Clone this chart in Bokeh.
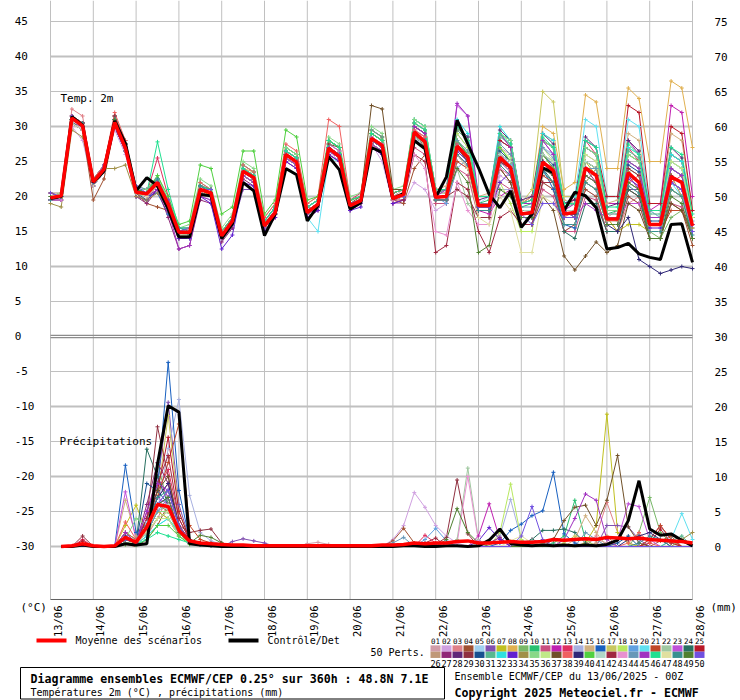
import math
from bokeh.plotting import figure
from bokeh.models import Range1d, LinearAxis, FixedTicker
from bokeh.embed import file_html
from bokeh.resources import INLINE
from bokeh.core.properties import value

FONT = "DejaVu Sans Mono"

DATES = ["13/06", "14/06", "15/06", "16/06", "17/06", "18/06", "19/06", "20/06",
         "21/06", "22/06", "23/06", "24/06", "25/06", "26/06", "27/06", "28/06"]
STEP_H = 6

# ensemble mean / control, 2 m temperature (degC), every 6 h from 13/06 00Z
MEAN_T = [19.8, 20.1, 31.2, 30.1, 22.1, 23.9, 30.6, 26.9, 20.6, 20.4,
          22.0, 18.9, 14.9, 14.9, 21.0, 20.5, 14.4, 16.5, 23.6, 22.7,
          15.8, 17.7, 26.0, 24.9, 17.7, 18.9, 26.9, 25.7, 18.7, 19.4,
          28.3, 27.3, 19.7, 20.3, 29.2, 27.8, 19.9, 20.0, 27.2, 25.6,
          18.7, 18.7, 25.6, 24.1, 17.5, 17.7, 24.9, 23.7, 17.5, 17.7,
          24.1, 23.0, 16.8, 16.8, 23.4, 22.0, 16.0, 16.0, 22.8, 22.0, 15.8]
CTRL_T = [19.7, 20.0, 31.4, 30.2, 22.0, 23.6, 30.8, 27.6, 20.8, 22.7,
          21.5, 18.2, 14.2, 14.2, 20.3, 20.1, 14.0, 16.1, 22.0, 20.8,
          14.4, 17.5, 24.0, 23.1, 16.5, 18.7, 25.7, 23.8, 18.2, 19.1,
          27.0, 26.3, 19.7, 20.4, 28.0, 26.8, 19.9, 22.8, 30.9, 27.5,
          24.1, 20.3, 18.4, 20.8, 15.6, 17.5, 24.1, 23.4, 18.0, 20.6,
          20.1, 18.4, 12.5, 12.7, 13.3, 11.8, 11.3, 11.0, 16.0, 16.1, 10.6]

# ensemble mean / control, precipitation (mm / 6 h), from 13/06 06Z
MEAN_P = [0, 0.1, 0.4, 0.1, 0, 0.1, 1.3, 0.6, 2.8, 6.0,
          5.7, 2.3, 0.8, 0.5, 0.4, 0.3, 0.2, 0.2, 0.1, 0.1,
          0.1, 0.1, 0.1, 0.1, 0.1, 0.1, 0.1, 0.1, 0.1, 0.1,
          0.2, 0.2, 0.3, 0.5, 0.4, 0.5, 0.5, 0.7, 0.8, 0.5,
          0.5, 0.6, 0.7, 0.6, 0.6, 0.7, 1.0, 0.9, 1.0, 1.1,
          1.0, 1.3, 1.2, 1.1, 1.2, 1.0, 0.9, 0.8, 0.7, 0.5]
CTRL_P = [0, 0, 0.2, 0, 0, 0, 0.4, 0.2, 0.4, 11.8,
          20.1, 19.2, 0.4, 0.2, 0.1, 0, 0, 0, 0, 0,
          0, 0, 0, 0, 0, 0, 0, 0, 0, 0,
          0, 0, 0.1, 0.1, 0, 0, 0.1, 0.1, 0, 0.1,
          0.9, 2.5, 0.4, 0.2, 0.1, 0.2, 0.1, 0.2, 0.1, 0.2,
          0.1, 0.3, 0.9, 3.7, 9.4, 2.5, 1.6, 1.8, 0.9, 0.1]

COLORS = ["#d09ca8", "#d0a0e0", "#e08088", "#a05030", "#a0d0f0", "#8050b0", "#c0c020", "#e0b050",
          "#78b868", "#28c070", "#c85080", "#c020b0", "#e03060", "#a8b0e0", "#d0b080", "#1860c0",
          "#c8c860", "#b8e860", "#60a0e0", "#60e0f0", "#c04828", "#a0c8a0", "#c050d8", "#287060",
          "#b81828", "#c09878", "#902878", "#602878", "#903040", "#185090", "#58b890", "#30e0e0",
          "#6020d0", "#a09048", "#88d888", "#c0e888", "#705028", "#f06060", "#302878", "#50d040",
          "#b0d8c8", "#a02840", "#e890d0", "#6898b8", "#a030c0", "#20e090", "#e0e0a0", "#389090",
          "#508030", "#7050e0"]

# 50 perturbed members, 2 m temperature
T01 = [20,20.5,31.5,30.5, 22.5,24,30.5,27, 21,20.5,22.5,19, 15,15.5,21.5,21, 15,17,24,23, 16.5,18,26.5,25.5, 18.5,19.5,28,27, 19.5,20,29,28, 20,21,30,29, 21,21,29,27, 19,19,27,26, 18,18,27,26, 18,18,26,25, 17,18,25,24, 17,17,25,24, 17]
T02 = [19.5,19.5,30,28, 21.5,23.5,29.5,26, 20,20,21.5,18.5, 14.5,15,20.5,20, 14,16,23,22, 15.5,17.5,25.5,24.5, 17.5,18.5,26.5,25, 18.5,19,27.5,25, 19,19,22,21, 18,19,25,24, 17,17,23,22, 16,16,22,21, 15,16,21,20, 15,15,20,19, 14,14,21,20, 15]
T03 = [20,20.5,32.5,31.5, 22,23.5,31,28, 21,20,22,19, 15,15,21,20.5, 14.5,16.5,23.5,23, 16,18,26,25, 18,19,27.5,26.5, 19,19.5,28.5,27.5, 20,20.5,29.5,28.5, 20,20,28,26, 19,19,26,25, 18,18,26,24, 17,18,25,24, 17,15,19,20, 16,16,24,23, 16]
T04 = [19.5,19.5,30.5,29.5, 19.5,22.5,30,26.5, 20.5,19,18.5,18, 14.5,14.5,20.5,20, 14,16,23,22, 15.5,17.5,25.5,24.5, 17,18.5,26.5,25.5, 18.5,19,28,27, 19.5,19,24,26, 19,19,26,24, 17,17,24,22, 16,16,22,21, 15,16,21,20, 15,15,20,19, 14,14,19,18, 13]
T05 = [20,20,31,30, 22,24,31,27, 21,20.5,22,19.5, 15.5,15.5,21.5,21, 15,17,24,23, 16,18,26.5,25.5, 18.5,19.5,27.5,26.5, 19.5,20,29,28, 20.5,21,30,29, 21,21,29,27, 19,20,28,27, 19,19,27,26, 18,19,27,26, 18,18,26,25, 17,17,25,24, 17]
T06 = [19.5,20,31,30, 22,24,30,26.5, 20,19.5,21,18, 14,14,20.5,20, 14,15.5,21,21, 15.5,17.5,25.5,24.5, 17.5,18.5,26.5,25.5, 18.5,19.5,28,27, 19.5,20,29,27.5, 20,20,27,25, 18,18,25,24, 17,17,25,23, 17,17,24,23, 17,17,21,21, 16,16,22,21, 15]
T07 = [20,20.5,31,30, 22,24,31,27.5, 21,20.5,22,19, 15,15,21,20, 14.5,16.5,23.5,22.5, 16,18,26,25, 18,19,27,26, 19,19.5,28,27, 20,20,29,28, 20,20,28,26, 19,19,27,25, 18,18,26,25, 18,17,25,23, 17,15,16,16, 15,15,21,20, 15]
T08 = [20,20,31,30, 22,24.5,31.5,27.5, 21,20.5,22.5,19.5, 15,15.5,21.5,21, 15,17,24,23.5, 16.5,18.5,27,26, 18.5,19.5,28,27, 19.5,20,29,28, 20.5,21,31,30, 21,21,30,28, 20,20,29,28, 19,20,30,29, 21,22,34.5,33.5, 24,24,35.5,34, 25,25,36.5,35.5, 27]
T09 = [20,20,31.5,30.5, 22,24,31,27, 21,20.5,22,19, 15,15,21,20.5, 14.5,16.5,23.5,22.5, 16,18,26,25, 18,19,27,26, 19,19.5,28,27, 19.5,20,29,28, 20,20,27,25.5, 18.5,18.5,25.5,24, 17.5,17.5,25,23.5, 17.5,17.5,24,23, 17,17,23.5,22, 15,14,17,18, 15]
T10 = [19.5,20,30.5,29.5, 22,24,30.5,27, 20.5,20,21.5,18.5, 15,15,21.5,21, 15,17,24.5,23.5, 16.5,18.5,27,26, 18.5,19.5,28,27, 19.5,20,29.5,28.5, 20.5,21,31,30, 21,21,30,28, 19,19.5,28,27, 18.5,19,28,27, 18,17,22,24, 17.5,18,26,25, 17,17,26,25, 17]
T11 = [20,20,31,30, 22,23.5,30.5,27, 21,20,21.5,18.5, 14.5,14.5,20.5,20, 14,16,23,22, 15.5,17.5,25.5,24.5, 17.5,18.5,26,25, 18.5,19,27.5,26, 19,19.5,27,26, 19,19,24,23, 17,17,22,21, 16,16,21,20, 15,15,20,19.5, 15,15,21,20, 15,15,19,18.5, 14]
T12 = [20,20,31.5,30.5, 22,24,31,27, 21,20.5,22,19, 15,15,21,20.5, 14.5,16.5,23.5,23, 16,18,26,25, 18,19,27,26, 19,19.5,28,27, 20,20,29,28, 20,20,27,25, 18,17.5,20,21, 17,17,25,24, 18,19,27,26, 19,19,28,26, 18,19,33,32, 20]
T13 = [20,20,31,30, 22,24,31,27.5, 21,20.5,25.5,20, 15,15.5,21.5,21, 15,17,24,23, 16.5,18.5,26.5,25.5, 18.5,19.5,28,27, 19.5,20.5,29.5,28.5, 20.5,21,30.5,29.5, 21,21,30,28, 20,20,29,27, 19,20,28,27, 19,19,28,26, 18,18,27,25, 18,17,22,23, 17]
T14 = [19.5,20,31,30, 22,24,30.5,27, 20.5,20,20.5,17.5, 14,14,20,19.5, 14,16,23,22, 15.5,17.5,25.5,24.5, 17.5,18.5,26.5,25.5, 18.5,19,27.5,26.5, 19.5,20,28.5,27, 19.5,19.5,26,24, 18,18,21,21, 16,16,23,22, 16,16,23,22, 16,16,22,21, 15,15,22,21, 15]
T15 = [20,20.5,31,30, 22.5,24.5,31.5,27.5, 21,20.5,22,19.5, 15.5,15.5,21.5,21, 15,17,24,23, 16.5,18.5,26.5,25.5, 18.5,19.5,28,27, 19.5,20,29,28, 20.5,21,30.5,29.5, 21,21.5,30,28.5, 20,20.5,29,28, 19,20,29,28, 19.5,19,22,24, 19,19.5,29,28, 18,18,29,28, 18]
T16 = [20,20,31,30, 22,24,30,26.5, 20.5,20,20.5,17.5, 14.5,14.5,20.5,20, 14.5,16.5,23.5,22.5, 16,18,26,25, 18,19,27,26, 19,19.5,28,27, 20,20,29,28, 20,20,28,26, 19,19,26,25, 18,18,24,21, 16,15.5,22,21, 16,16,22,21, 15,15,22,21, 15]
T17 = [20,20,31,30, 22,24,31,27, 21,20.5,22,19, 15,15.5,21.5,21, 15,17,24,23, 16.5,18.5,26.5,25.5, 18.5,19.5,28,27, 19.5,20,29,28, 20.5,21,30,29, 21,21,30,28, 20,20,29,28, 19,21,35,33.5, 20,20,27,26, 18,18,26,25, 17,17,26,25, 17]
T18 = [20,20,31,30, 22,24,31,27, 21,20.5,22.5,19.5, 15,15,21,20.5, 15,17,24,23, 16,18,26.5,25.5, 18,19,27.5,26.5, 19,19.5,28.5,27.5, 20,20,29.5,28.5, 20.5,20.5,29,27, 19,19,22,19, 15,15,24,24, 18,18,27,26, 18,18,27,26, 17,17,26,25, 17]
T19 = [19.5,20,30.5,29.5, 22,23.5,30.5,27, 20.5,20,21.5,18.5, 14.5,15,21,20.5, 14.5,16.5,23.5,22.5, 16,18,26,25, 18,19,27,26, 19,19.5,28,27, 20,20,29,28, 20,19,24,25.5, 18.5,18.5,26,24.5, 17.5,18,26,24, 17,17,24,23, 16,16,23,22, 16,16,22,21, 15]
T20 = [20,20.5,31,30, 22,24,31,27.5, 21,20.5,22,19, 15,15,21,20.5, 14.5,16.5,23.5,22.5, 16,18,26,25, 17,15,25.5,25, 18.5,19,28,27, 20,20,30,29, 21,21,30,28.5, 20,20,29,28, 19,19,28,27, 19,20,31,30, 20,20,31,30, 18,17,22,20, 15]
T21 = [20,20,31,30, 22,24,31,27, 21,20.5,22,19, 15,15,21,20.5, 14.5,16.5,23.5,22.5, 16,18,26,25, 18,19,27,26, 19,19.5,28,27, 19.5,20,28.5,27.5, 19.5,19.5,25,24, 18,18,24,23, 17,17,23,22, 17,17,22,21, 16,16,21,20, 15,15,18,18, 15]
T22 = [20,19.5,30.5,29.5, 21.5,24,31,27.5, 21,20.5,21.5,18.5, 15,15,21,20.5, 14.5,16.5,23.5,22.5, 16,18,26,25, 18,19,27,26, 19,19.5,28,27, 20,20,29,28, 20,20,24,19, 17,17,25,24, 18,18,26,25, 18,18,25,24, 17,17,25,24, 16,16,24,23, 16]
T23 = [20.5,20.5,31.5,30.5, 22.5,24.5,31.5,27.5, 21.5,21,22.5,19.5, 15.5,15.5,21.5,21, 15,17,24,23, 16.5,18.5,26.5,25.5, 18.5,19.5,27.5,26.5, 19.5,20,28.5,27.5, 20,20,29.5,28.5, 20.5,20.5,33,31.5, 19,19,28,27, 18,18,28,26, 18,18,27,26, 17,17,19,19, 16,16,26,25, 16]
T24 = [19.5,20,31,30, 22,23.5,30.5,26.5, 20.5,19.5,21,18.5, 14.5,14.5,20.5,20, 14,16,23,22, 15.5,17.5,25.5,24.5, 17.5,18.5,26.5,25.5, 18.5,19,27.5,26.5, 19.5,20,28.5,27.5, 20,20,27,25, 18,18,25,24, 17,17,24,22, 15,14,19,19, 15,15,21,20, 14,14,21,20, 14]
T25 = [20,20.5,31.5,30, 22.5,24,31.5,27.5, 21,20.5,22,19, 15,15,21,20.5, 15,17,24,23, 16.5,18.5,26.5,25.5, 18.5,19.5,28,27, 19.5,20,29,28, 20.5,21,30,29, 21,21,29.5,28, 20,20,28,27, 19,19.5,28,27, 19,19.5,28,27, 20,20,33,32, 19,19,30,29, 18]
T26 = [19.5,19.5,30.5,29.5, 22,24,30.5,27, 20.5,20,21.5,18.5, 14.5,14.5,20.5,20, 14,16,23,22, 15.5,17.5,25.5,24.5, 17.5,18.5,26.5,25.5, 18.5,19,27.5,26.5, 19.5,20,28.5,27.5, 19.5,19.5,26.5,25, 18.5,18.5,25.5,24, 17,17,24,23, 17,17,23,22, 16.5,16.5,23,22, 16,16,22,21, 15.5]
T27 = [19.5,19.5,30.5,29.5, 21.5,23.5,30,26.5, 20,19,21,17, 12.5,13,19.5,19, 13.5,15.5,22.5,21.5, 15,17,25,24, 17,18,26,25, 18,19,27,26, 19,19.5,28,27, 19.5,19.5,26,24.5, 18,18,25,23.5, 17,17,25,23, 17,17,24,22, 16,16,23,21, 15,15,22,21, 15]
T28 = [20.5,20,31,30.5, 21.5,24,31,27, 21,21,22.5,19, 15,15.5,21.5,20.5, 14.5,16.5,23.5,22.5, 16,18,26,25, 18,19,27,26, 19,19.5,28,27, 20,20.5,30,29, 20.5,21,30,28.5, 19.5,20,29.5,28, 19.5,20,29,27.5, 19,19.5,28.5,27, 18.5,19,28,26.5, 18,18,27,25.5, 17]
T29 = [19.5,20,31.5,30.5, 22,24.5,31,27.5, 21,20,21,18, 14,14.5,20.5,20, 14.5,16.5,23.5,22.5, 16,18,26,25, 18,19,27,26, 19,19.5,28,27, 20,20,29,28, 20,20,21,20, 17,17,25,24, 17,17,25,23, 17,17,24,23, 17,17,23,22, 16,16,23,22, 16]
T30 = [20,20,31,30, 22,24,31,27, 21,20.5,21.5,18.5, 14.5,14.5,20.5,20, 14,16,23,22, 15.5,17.5,25.5,24.5, 17.5,18.5,26.5,25.5, 18.5,19,27.5,26.5, 19.5,20,28.5,27.5, 20,20,27.5,26, 19,19,26.5,25, 18,18,26,24.5, 17.5,17.5,25,24, 17,17,24.5,23.5, 16.5,16.5,24,23, 16]
T31 = [20,20.5,31.5,30.5, 22.5,24.5,31.5,28, 21.5,21,22.5,19.5, 15.5,15.5,22,21, 15,17,24.5,23.5, 16.5,18.5,27,26, 18.5,19.5,28,27, 19.5,20,29.5,28.5, 20,20.5,30.5,29.5, 20.5,21,29.5,28, 20,20,28.5,27.5, 19,19.5,28,27, 18.5,19,27,26, 18,18,26.5,25.5, 17.5,17.5,26,25, 17]
T32 = [20,20,31,30, 22,24,31,27.5, 21,20.5,22.5,19.5, 15,15.5,21.5,21, 15,17,24,23, 16.5,18.5,26.5,25.5, 18.5,19.5,28,27, 19.5,20,29,28, 21,21,31,30, 21,21,31,29, 20,20,30,28, 19,19,29,28, 19,19,28,27, 18,18,27,26, 17,17,26,25, 16]
T33 = [19.5,19.5,30.5,29.5, 21.5,23.5,30,26.5, 20,19.5,21,18, 14,14,20,19, 12.5,14.5,22,21.5, 15,17,25,24, 17,18,26,25, 18,18.5,27,26, 19,19.5,28,27, 19.5,19.5,26.5,25, 18,18,22,23.5, 17,17,24,23, 17,17,23,22, 16,16,22.5,21.5, 15.5,15.5,22,21, 15]
T34 = [19,18.5,29.5,28.5, 22.5,24,24,24.5, 20,19.5,20.5,18.5, 14.5,14.5,20.5,20, 14,16,23,22, 15.5,17.5,25.5,24.5, 17.5,18.5,26.5,25.5, 18.5,19,27.5,26.5, 19.5,20,28.5,27.5, 19.5,19.5,27,25.5, 18.5,18.5,25.5,24, 17.5,17.5,25,23.5, 17.5,17.5,24,23, 17,17,23.5,22, 16,16,23,20, 15.5]
T35 = [20,20,31,30, 22,24,31,27, 21,21,23,19.5, 15.5,16,22.5,21.5, 15.5,17.5,25,24, 17,19,27,26, 19,20,28.5,27.5, 20,20.5,30,29, 21,21.5,31,30, 21,21,30,28, 20,20,29,28, 19,19,28,27, 19,19,27,26, 18,18,26,25, 17,17,25,24, 17]
T36 = [20.5,20.5,30.5,30, 22,24.5,30.5,27, 21,20,22,19.5, 15,15.5,21,21, 14.5,16.5,23.5,22.5, 16,18,26,25, 18,19,27,26, 19,19.5,28,27, 20,20,29,28, 20.5,20.5,28,26.5, 19,19,27,25.5, 18,18,27,25, 18,18,26,25, 17.5,17.5,25,24, 17,17,25,24, 17]
T37 = [20,20,31,30, 22,24,31,27, 20.5,20,21.5,18.5, 14.5,14.5,20.5,20, 14.5,16.5,23.5,22.5, 16,18,26,25, 18,19,27.5,27, 19,20,33,32.5, 21,21,29,27, 20,20,27,25, 18,18,24,22, 16,16,20,18, 11.5,9.5,11.5,13.5, 12,13,19,18, 14,14,19,18, 14]
T38 = [20,20.5,31.5,30.5, 22.5,24.5,32,28, 21,20.5,22,19, 15,15.5,22,21, 15,17,24.5,23.5, 17,19,27.5,26.5, 19,20,31,30, 19.5,20,29,28, 20,20.5,29.5,28.5, 20,20,27.5,26, 19,19,26,25, 18,18,26,24, 18,18,25,24, 17,17,22,23, 16,16,23,22, 16]
T39 = [19.5,20,30.5,30, 22,23.5,31,27, 20.5,20.5,22,19, 15,14.5,21,20.5, 14.5,16.5,23.5,22.5, 16,18,26,25, 18,19,27,26, 19,19.5,28,27, 20,20,29,28, 20,20,27,25.5, 18.5,18.5,25.5,24, 17.5,17.5,25,23.5, 17.5,17.5,24,23, 16,15,17,11, 10,9,9.5,10, 9.7]
T40 = [20,20,31,30, 22,24,31,27, 21,20.5,23,20, 16,16.5,24.5,24, 17.5,18.5,26.5,26.5, 17.5,19.5,29.5,28.5, 19.5,20,28,27, 19.5,20,29,28, 20,20,29,28, 20,20,28,26, 19,19,27,25, 18,18,26,24, 18,18,25,24, 17,17,24,23, 16,16,23,22, 16]
T41 = [19.5,20,30.5,29.5, 22,24,30.5,27, 20.5,20,21.5,18.5, 14.5,14.5,20.5,20, 14,16,23,22, 15.5,17.5,25.5,24.5, 17.5,18.5,26.5,25.5, 18.5,19,27.5,26.5, 19.5,20,28.5,27.5, 20,20,27,26, 19,19,26,25, 18,18,26,25, 18,18,25,24, 17,17,24,23, 16,16,24,23, 16]
T42 = [20.5,20,31,30.5, 22,24,31.5,27.5, 21,20.5,22,19.5, 15,15,21.5,21, 14.5,16.5,23.5,22.5, 16,18,26,25, 18,19,27,26, 19,19.5,28,27, 19.5,19.5,26,25, 12,13,22,21, 15,12,17,18, 16,16,22,22, 17,17,24,23, 17,17,24,23, 17,17,23,22, 16]
T43 = [19.5,19.5,31,29.5, 22,23.5,30.5,27, 21,20,21.5,19, 14.5,15,20.5,20, 14.5,16.5,23.5,22.5, 16,18,26,25, 18,19,27,26, 19,19.5,28,27, 19.5,20,26,24, 15,14.5,22,18, 16,16,24,23, 17,17,24,23, 17,17,23,22, 16,16,22,21, 15,15,22,21, 15]
T44 = [20,20,31,30, 22,24,31,27, 21,20.5,22,19, 15,15,21,20.5, 14.5,16.5,23.5,22.5, 16,18,26,25, 18,19,27,26, 19,19.5,28,27, 20,20,29,28, 20,20,28,26.5, 19,19,27.5,26, 18.5,18.5,27,25.5, 18,17,24,24, 17.5,17.5,25,24, 17,17,24,23, 16.5]
T45 = [20,20,31,30, 22,24,31,27, 21,20,21,18, 12.5,13,20,19.5, 14,16,23,22, 15.5,17.5,25.5,24.5, 17.5,18.5,26.5,25.5, 18.5,19,27.5,26.5, 20,20,30,29, 20,21,33.3,31.5, 20,20,29,27, 19,19,28,26, 18,17,19,18, 17,17,25,24, 17,17,24,23, 16]
T46 = [20,20.5,31,30, 22,24,31,27.5, 21,20.5,27.8,21, 15.5,15.5,21.5,21, 15,17,24,23, 16.5,18.5,26.5,25.5, 18.5,19.5,28,27, 19.5,20,29,28, 20.5,21,30.5,29.5, 21,21,30,28, 20,20,29,27.5, 19,19.5,28.5,27, 19,19,28,27, 18.5,18.5,27.5,26, 18,18,27,26, 17.5]
T47 = [20,20.5,30.5,29.5, 21.5,23.5,30.5,26.5, 20.5,20,21.5,18.5, 14.5,14.5,20.5,20, 14.5,16.5,23.5,22.5, 16,18,26,25, 18,19,27,26, 19,19.5,28,27, 20,20,29,28, 20,20,26,24, 17,16,20,18, 12,12,20,19, 16,16,22,21, 16,16,22,21, 15,15,21,20, 15]
T48 = [19.5,20,31,30.5, 22.5,24,31,27, 21,20.5,22.5,19, 15.5,15,21.5,20.5, 14.5,16.5,23.5,22.5, 16,18,26,25, 18,19,27,26, 19,19.5,28,27, 20,20,29,28, 19.5,19.5,26,24.5, 18,18,24.5,23, 17,17,23.5,22, 16,16,22,21, 16,16,21.5,20.5, 15,15,21,20, 14.5]
T49 = [20,20,31,30, 22,24,31,27, 21,20.5,22,19, 15,15,21,20.5, 14.5,16.5,23.5,22.5, 16,18,26,25, 18,19,27,26, 19,19.5,28,27, 20,20,29,28, 20,20,24,22, 12,13,21,20, 17,17,24,23, 17,17,23,22, 16,16,22,21, 14,14,20,19, 14]
T50 = [20.5,20,31.5,30, 22,24.5,30.5,27, 21.5,20.5,22,19.5, 15,15.5,21,21, 14.5,16.5,23.5,22.5, 16,18,26,25, 18,19,27,26, 19,19.5,28,27, 20,20,29,28, 20,20,27,25.5, 18.5,18.5,25.5,24, 17.5,16,19,19, 17,17,24,23, 17,17,23,22, 16,16,22,21, 15]

# 50 perturbed members, precipitation (mm / 6 h) by step number (steps not listed: 0)
P01 = {7: 0.5, 8: 0.3, 9: 2, 10: 5, 11: 4, 12: 1.5, 13: 0.5, 14: 0.3, 15: 0.2, 24: 0.4, 25: 0.6, 26: 0.3, 50: 0.5, 51: 1, 52: 0.5}
P02 = {7: 1, 8: 0.5, 9: 3, 10: 6, 11: 5, 12: 2, 13: 0.5, 14: 0.3, 15: 0.2, 32: 1, 33: 3, 34: 7.7, 35: 5.6, 36: 3, 37: 1.5, 38: 0.5, 47: 0.5}
P03 = {7: 0.5, 8: 0.2, 9: 1.5, 10: 4, 11: 7, 12: 3, 13: 0.8, 14: 0.5, 15: 0.3, 51: 1.5, 52: 6.3, 53: 2, 54: 0.5}
P04 = {7: 0.3, 9: 1, 10: 3, 11: 6, 12: 2.5, 13: 0.5, 14: 0.5, 15: 0.3, 32: 0.8, 33: 2.6, 34: 0.5, 57: 0.8, 58: 1.5}
P05 = {7: 1.5, 8: 1, 9: 3.5, 10: 7, 11: 5, 12: 1.5, 13: 0.5, 14: 0.3, 15: 0.2, 56: 1, 57: 3, 58: 0.5}
P06 = {7: 2, 8: 0.5, 9: 4, 10: 9, 11: 20.6, 12: 6, 13: 1, 14: 0.5, 15: 0.3, 17: 0.7, 18: 1.1, 19: 0.8, 20: 0.5, 52: 3, 53: 3, 54: 2.8, 55: 1}
P07 = {7: 3, 8: 5.9, 9: 2, 10: 5, 11: 4, 12: 2, 13: 0.5, 14: 0.3, 15: 0.2, 50: 0.5, 51: 3, 52: 18.9, 53: 2, 54: 0.5}
P08 = {7: 0.5, 8: 0.2, 9: 2, 10: 6, 11: 6, 12: 2, 13: 0.5, 14: 0.3, 15: 0.2}
P09 = {7: 1, 8: 0.5, 9: 3, 10: 11.9, 11: 6, 12: 2, 13: 0.5, 14: 0.5, 15: 0.5, 55: 2, 56: 7, 57: 2, 58: 0.5}
P10 = {7: 0.5, 8: 0.3, 9: 2, 10: 4, 11: 5, 12: 2, 13: 0.5, 14: 0.3, 15: 0.2, 47: 0.5, 48: 1.5, 49: 6.6, 50: 1}
P11 = {7: 1, 8: 0.5, 9: 3, 10: 7, 11: 9, 12: 3, 13: 1, 14: 0.5, 15: 0.3, 44: 0.5, 45: 1, 46: 0.5}
P12 = {7: 1.5, 8: 0.5, 9: 5, 10: 10, 11: 7, 12: 2, 13: 0.5, 14: 0.3, 15: 0.2, 40: 1.5, 41: 6.1, 42: 1}
P13 = {3: 1, 7: 2, 8: 1, 9: 4, 10: 8, 11: 11, 12: 4, 13: 1, 14: 0.5, 15: 0.3, 35: 1.6, 36: 0.5, 56: 1, 57: 3, 58: 1}
P14 = {7: 0.5, 8: 0.3, 9: 2, 10: 5, 11: 14, 12: 21, 13: 7.3, 14: 2, 15: 0.8, 16: 0.3, 42: 1.5, 43: 6.7, 44: 1}
P15 = {7: 6.6, 8: 1.5, 9: 2, 10: 4, 11: 5, 12: 2, 13: 0.5, 14: 0.3, 15: 0.2, 49: 1, 50: 4.4, 51: 2}
P16 = {7: 11.6, 8: 2, 9: 3, 10: 8, 11: 26.3, 12: 8, 13: 1, 14: 0.5, 15: 0.3, 42: 0.5, 43: 2.3, 44: 3.2, 45: 4.4, 46: 5.1, 47: 10.6, 48: 1.8, 49: 0.5}
P17 = {7: 1, 8: 0.5, 9: 3, 10: 7, 11: 18.7, 12: 5, 13: 1, 14: 0.5, 15: 0.3, 48: 0.5, 49: 1.5, 50: 1}
P18 = {7: 0.5, 8: 0.5, 9: 2, 10: 5, 11: 6, 12: 2, 13: 0.5, 14: 0.3, 15: 0.2, 42: 2, 43: 8.9, 44: 1}
P19 = {7: 1, 8: 0.5, 9: 3, 10: 6, 11: 8, 12: 3, 13: 0.5, 14: 0.3, 15: 0.2, 35: 1, 36: 2.6, 37: 0.8}
P20 = {7: 0.5, 8: 0.3, 9: 1.5, 10: 3, 11: 4, 12: 1.5, 13: 0.5, 14: 0.3, 15: 0.2, 58: 1, 59: 4.7, 60: 1}
P21 = {7: 1, 8: 0.5, 9: 3, 10: 7, 11: 12, 12: 17.5, 13: 3, 14: 1, 15: 0.5, 56: 1, 57: 3, 58: 1}
P22 = {7: 0.5, 8: 0.3, 9: 2, 10: 5, 11: 5, 12: 2, 13: 0.5, 14: 0.3, 15: 0.2, 38: 1, 39: 11.2, 40: 1}
P23 = {7: 7.8, 8: 1, 9: 3, 10: 7, 11: 6, 12: 2, 13: 0.5, 14: 0.3, 15: 0.2, 53: 1, 54: 6.1, 55: 5.7, 56: 1}
P24 = {7: 1, 8: 0.5, 9: 13.9, 10: 10, 11: 6, 12: 2, 13: 0.5, 14: 0.3, 15: 0.2, 45: 1, 46: 2.3, 47: 2.3, 48: 2.5, 49: 2, 50: 0.5}
P25 = {3: 0.8, 7: 1, 8: 0.5, 9: 3, 10: 8, 11: 15.6, 12: 5, 13: 1, 14: 0.5, 15: 0.3, 56: 0.5, 57: 2.5, 58: 0.5}
P26 = {7: 0.5, 8: 0.3, 9: 2, 10: 4, 11: 4, 12: 1.5, 13: 0.5, 14: 0.3, 15: 0.2, 51: 0.5, 52: 1.5}
P27 = {7: 1, 8: 0.5, 9: 6, 10: 12, 11: 9, 12: 3, 13: 1, 14: 0.5, 15: 0.3, 41: 0.5, 42: 1.3}
P28 = {7: 0.5, 8: 0.3, 9: 2, 10: 5, 11: 6, 12: 2, 13: 0.5, 14: 0.3, 15: 0.2}
P29 = {3: 1.5, 7: 1, 8: 0.5, 9: 4, 10: 17.1, 11: 10, 12: 3, 13: 2, 14: 2.3, 15: 2.5, 16: 0.5, 36: 0.3, 37: 1.3, 38: 9.5, 39: 1.8}
P30 = {7: 1.5, 8: 0.5, 9: 9, 10: 8, 11: 6, 12: 2, 13: 0.5, 14: 0.3, 15: 0.2, 53: 0.5, 54: 1.5}
P31 = {7: 0.5, 8: 0.3, 9: 2, 10: 4, 11: 5, 12: 2, 13: 0.5, 14: 0.3, 15: 0.2, 58: 0.8, 59: 1.5}
P32 = {7: 0.5, 8: 0.3, 9: 1.5, 10: 3, 11: 4, 12: 2, 13: 0.5, 14: 0.3, 15: 0.2}
P33 = {7: 1, 8: 0.5, 9: 3, 10: 6, 11: 7, 12: 2, 13: 0.5, 14: 0.3, 15: 0.2, 40: 0.8, 41: 2.7, 42: 1}
P34 = {7: 2, 8: 1, 9: 3, 10: 6, 11: 5, 12: 2, 13: 0.5, 14: 0.3, 15: 0.2, 59: 1, 60: 2}
P35 = {7: 1, 8: 4, 9: 3, 10: 5, 11: 5, 12: 2, 13: 0.5, 14: 0.3, 15: 0.2, 46: 0.5, 47: 1}
P36 = {7: 0.5, 8: 0.3, 9: 2, 10: 4, 11: 4, 12: 1.5, 13: 0.5, 14: 0.3, 15: 0.2}
P37 = {7: 1, 8: 0.5, 9: 3, 10: 8, 11: 10, 12: 3, 13: 0.5, 14: 0.3, 15: 0.2, 47: 1, 48: 3.7, 49: 5.6, 50: 5.9, 51: 3, 52: 6.6, 53: 13, 54: 2.8, 55: 0.5}
P38 = {7: 3.5, 8: 1, 9: 3, 10: 6, 11: 6, 12: 2, 13: 0.5, 14: 0.3, 15: 0.2, 54: 0.5, 55: 2, 56: 0.5}
P39 = {7: 1, 8: 0.5, 9: 3, 10: 7, 11: 9, 12: 3, 13: 0.5, 14: 0.3, 15: 0.2, 54: 1, 55: 1.5, 56: 2, 57: 1}
P40 = {7: 0.3, 8: 0.2, 9: 1, 10: 3, 11: 3, 12: 1.5, 13: 0.3, 14: 0.3, 15: 0.2}
P41 = {7: 0.5, 8: 0.3, 9: 2, 10: 5, 11: 6, 12: 2, 13: 0.5, 14: 0.3, 15: 0.2, 44: 0.5, 45: 0.8}
P42 = {7: 1, 8: 0.5, 9: 4, 10: 9, 11: 13, 12: 4, 13: 1, 14: 0.5, 15: 0.3, 35: 0.5, 36: 1.2}
P43 = {7: 1, 8: 0.5, 9: 3, 10: 6, 11: 8, 12: 3, 13: 0.5, 14: 0.3, 15: 0.2, 38: 0.5, 39: 10, 40: 0.8}
P44 = {7: 0.5, 8: 0.3, 9: 2, 10: 5, 11: 7, 12: 2, 13: 0.5, 14: 0.3, 15: 0.2, 32: 0.5, 33: 1.3, 50: 2, 51: 1}
P45 = {7: 2, 8: 0.5, 9: 5, 10: 9, 11: 8, 12: 3, 13: 0.5, 14: 0.3, 15: 0.2, 48: 1, 49: 4, 50: 7.5, 51: 6.6, 52: 1}
P46 = {7: 0.5, 8: 0.3, 9: 1, 10: 2, 11: 1.5, 12: 1, 13: 0.5, 14: 0.3, 15: 0.2}
P47 = {7: 0.5, 8: 0.3, 9: 2, 10: 4, 11: 5, 12: 2, 13: 0.5, 14: 0.3, 15: 0.2, 43: 0.8, 44: 1.5, 45: 0.5}
P48 = {7: 1, 8: 0.5, 9: 3, 10: 7, 11: 8, 12: 3, 13: 0.5, 14: 0.3, 15: 0.2, 55: 0.5, 56: 1.5, 57: 1}
P49 = {7: 1, 8: 0.5, 9: 3, 10: 6, 11: 7, 12: 2, 13: 0.5, 14: 1.6, 15: 1.3, 16: 0.5, 37: 1, 38: 5.4, 39: 2, 40: 0.5}
P50 = {7: 1, 8: 0.5, 9: 3, 10: 6, 11: 8, 12: 3, 13: 0.5, 14: 0.3, 15: 0.2, 44: 1.5, 45: 5.7, 46: 1}

TEMP_MEMBERS = [T01, T02, T03, T04, T05, T06, T07, T08, T09, T10, T11, T12, T13, T14, T15, T16, T17,
                T18, T19, T20, T21, T22, T23, T24, T25, T26, T27, T28, T29, T30, T31, T32, T33, T34,
                T35, T36, T37, T38, T39, T40, T41, T42, T43, T44, T45, T46, T47, T48, T49, T50]
PRECIP_MEMBERS = [P01, P02, P03, P04, P05, P06, P07, P08, P09, P10, P11, P12, P13, P14, P15, P16, P17,
                  P18, P19, P20, P21, P22, P23, P24, P25, P26, P27, P28, P29, P30, P31, P32, P33, P34,
                  P35, P36, P37, P38, P39, P40, P41, P42, P43, P44, P45, P46, P47, P48, P49, P50]

# ---------------------------------------------------------------- derived tables
HOURS_T = [STEP_H * i for i in range(len(MEAN_T))]
HOURS_P = [STEP_H * (j + 1) for j in range(len(MEAN_P))]
PREC_FULL = [[P.get(j + 1, 0.0) for j in range(len(MEAN_P))] for P in PRECIP_MEMBERS]
DAY_H = [24 * d for d in range(len(DATES))]
END_H = DAY_H[-1]

# ---------------------------------------------------------------- layout constants
W, H = 740, 700
LEFT, PXH = 50, 642 / 360          # page x of hour 0, pixels per hour
ZERO_Y, PXU = 336, 7               # page y of 0 degC, pixels per unit
X0, X1 = -LEFT / PXH, (W - LEFT) / PXH
Y0, Y1 = (ZERO_Y - H) / PXU, ZERO_Y / PXU
Y_BOT = -37.57                     # bottom edge of the plotting area
P_OFF = 30                         # precipitation 0 mm drawn at -30 on the left scale
GRID_C = "#c0c0c0"
AX_FS = "11px"
TX_FS = "10px"

p = figure(width=W, height=H, x_range=Range1d(X0, X1), y_range=Range1d(Y0, Y1),
           x_axis_type=None, y_axis_type=None, output_backend="svg", toolbar_location=None,
           min_border_left=0, min_border_right=0, min_border_top=0, min_border_bottom=0,
           outline_line_color=None, background_fill_color="white", border_fill_color="white")
p.extra_y_ranges = {"mm": Range1d(Y0 + P_OFF, Y1 + P_OFF), "px": Range1d(H, 0)}
p.extra_x_ranges = {"px": Range1d(0, W)}

# grid
p.segment(x0=DAY_H, y0=[Y_BOT] * len(DAY_H), x1=DAY_H, y1=[Y1] * len(DAY_H),
          line_color=GRID_C, line_width=1)
thick = [-30, -20, -10, 10, 20, 30, 40]
thin = [-25, -15, -5, 5, 15, 25, 35, 45]
p.segment(x0=[0] * len(thick), y0=thick, x1=[END_H] * len(thick), y1=thick,
          line_color=GRID_C, line_width=2)
p.segment(x0=[0] * len(thin), y0=thin, x1=[END_H] * len(thin), y1=thin,
          line_color=GRID_C, line_width=1)
p.segment(x0=[0, 0], y0=[0.17, -0.17], x1=[END_H, END_H], y1=[0.17, -0.17],
          line_color="#8c8c8c", line_width=1.2)
p.segment(x0=[0], y0=[Y_BOT], x1=[END_H], y1=[Y_BOT], line_color="#606060", line_width=1)

# axes drawn at fixed locations
yt = list(range(-30, 50, 5))
lax = LinearAxis(fixed_location=0, ticker=FixedTicker(ticks=yt),
                 major_label_overrides={t: str(t) + "\u00a0" * (3 - len(str(t))) for t in yt},
                 major_label_standoff=10)
p.add_layout(lax, "left")
rax = LinearAxis(y_range_name="mm", fixed_location=END_H, ticker=FixedTicker(ticks=list(range(0, 80, 5))),
                 major_label_standoff=16)
p.add_layout(rax, "right")
xt = [h + 4 for h in DAY_H]
bax = LinearAxis(fixed_location=Y_BOT, ticker=FixedTicker(ticks=xt),
                 major_label_overrides={t: DATES[d] for d, t in enumerate(xt)},
                 major_label_orientation=math.pi / 2, major_label_standoff=0)
p.add_layout(bax, "below")
for ax in (lax, rax, bax):
    ax.axis_line_color = None
    ax.major_tick_line_color = None
    ax.minor_tick_line_color = None
    ax.major_label_text_font = FONT
    ax.major_label_text_font_size = AX_FS
    ax.major_label_text_color = "black"
bax.major_label_text_font_size = "10.5px"

# members
p.multi_line(xs=[HOURS_T] * len(TEMP_MEMBERS), ys=TEMP_MEMBERS, line_color=COLORS, line_width=1)
p.multi_line(xs=[HOURS_P] * len(PREC_FULL), ys=PREC_FULL, line_color=COLORS, line_width=1,
             y_range_name="mm")
tx, ty, tc = [], [], []
for ys, c in zip(TEMP_MEMBERS, COLORS):
    for h, v in zip(HOURS_T, ys):
        tx.append(h); ty.append(v); tc.append(c)
p.scatter(tx, ty, marker="cross", size=4, line_color=tc, line_width=1)
qx, qy, qc = [], [], []
for ys, c in zip(PREC_FULL, COLORS):
    for h, v in zip(HOURS_P, ys):
        if v > 0:
            qx.append(h); qy.append(v); qc.append(c)
p.scatter(qx, qy, marker="cross", size=4, line_color=qc, line_width=1, y_range_name="mm")

# control and mean
p.line(HOURS_T, CTRL_T, line_color="black", line_width=3)
p.line(HOURS_P, CTRL_P, line_color="black", line_width=3, y_range_name="mm")
p.line(HOURS_T, MEAN_T, line_color="#ff0000", line_width=3.5)
p.line(HOURS_P, MEAN_P, line_color="#ff0000", line_width=3.5, y_range_name="mm")

PX = dict(x_range_name="px", y_range_name="px")
TXT = dict(text_font=value(FONT), text_baseline="middle", text_color="black")

# panel titles and units
p.text(x=[60, 59, 20, 710], y=[98, 441, 607, 607],
       text=["Temp. 2m", "Précipitations", "(°C)", "(mm)"], text_font_size=AX_FS, **TXT, **PX)

# legend
p.line([36, 66], [640, 640], line_color="#ff0000", line_width=4, **PX)
p.line([228, 258], [640, 640], line_color="black", line_width=4, **PX)
p.text(x=[75, 267, 370], y=[640, 640, 652], text=["Moyenne des scénarios", "Contrôle/Det", "50 Perts."],
       text_font_size=TX_FS, **TXT, **PX)
n = len(COLORS)
half = n // 2
sq_x = [435 + 11 * (k % half) for k in range(n)]
sq_y = [648 + 6.3 * (k // half) for k in range(n)]
p.rect(x=sq_x, y=sq_y, width=10, height=6.3, fill_color=COLORS, line_color=None, **PX)
p.text(x=sq_x[:half], y=[640.5] * half, text=[f"{k + 1:02d}" for k in range(half)],
       text_font_size="7.5px", text_align="center", **TXT, **PX)
p.text(x=sq_x[half:], y=[662.5] * (n - half), text=[f"{k + 1:02d}" for k in range(half, n)],
       text_font_size="8.5px", text_align="center", **TXT, **PX)

# title box and credits
p.quad(left=20, right=444, top=667, bottom=698.5, fill_color=None, line_color="black", line_width=1, **PX)
p.text(x=[30], y=[678], text=["Diagramme ensembles ECMWF/CEP 0.25° sur 360h : 48.8N 7.1E"],
       text_font_size="11.6px", text_font_style="bold", **TXT, **PX)
p.text(x=[30], y=[691.5], text=["Températures 2m (°C) , précipitations (mm)"],
       text_font_size=TX_FS, **TXT, **PX)
p.text(x=[454], y=[676], text=["Ensemble ECMWF/CEP du 13/06/2025 - 00Z"],
       text_font_size=TX_FS, **TXT, **PX)
p.text(x=[454], y=[692], text=["Copyright 2025 Meteociel.fr - ECMWF"],
       text_font_size="11.6px", text_font_style="bold", **TXT, **PX)

open("out.html", "w").write(file_html(p, INLINE))
